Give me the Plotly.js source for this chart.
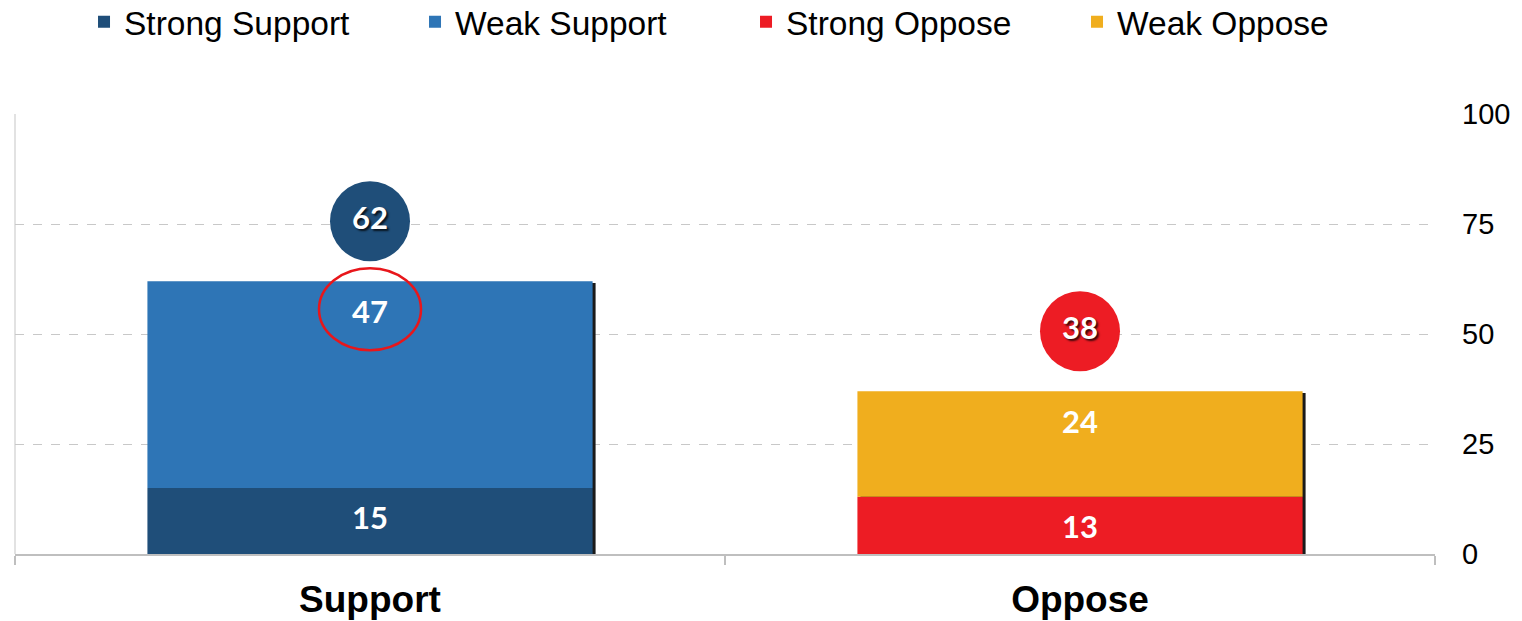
<!DOCTYPE html>
<html>
<head>
<meta charset="utf-8">
<script src="https://cdn.plot.ly/plotly-3.0.1.min.js"></script>
<style>html,body{margin:0;padding:0;background:#fff;}#chart{width:1522px;height:621px;}</style>
</head>
<body>
<div id="chart"></div>
<script>
// ---- data ----
const categories = ["Support", "Oppose"];
const seriesNames = ["Strong Support", "Weak Support", "Strong Oppose", "Weak Oppose"];
const strongValues = [15, 13];          // Strong Support / Strong Oppose
const weakValues = [47, 24];            // Weak Support / Weak Oppose
const totals = [62, 38];                // bubble totals
const yTicks = [0, 25, 50, 75, 100];

// ---- styles ----
const colStrongSupport = "#1F4E79";
const colWeakSupport = "#2E75B6";
const colStrongOppose = "#ED1C24";
const colWeakOppose = "#F0AE1E";
const bubbleColors = [colStrongSupport, colStrongOppose];

const W = 1522, H = 621;
const margin = {l: 15, r: 87, t: 114, b: 67, autoexpand: false};
const plotH = H - margin.t - margin.b;
const yMax = 100;
const pxPerUnit = plotH / yMax;
const barWidth = 0.627;
const shadowPx = 3;
const bandPx = (W - margin.l - margin.r) / categories.length;

const stackTops = strongValues.map((s, i) => s + weakValues[i]);

function bar(name, xIdx, y, base, color) {
  return {
    type: "bar", name: name,
    x: [categories[xIdx]], y: [y], base: [base],
    width: barWidth,
    marker: {color: color, line: {width: 0}},
    hoverinfo: "skip", showlegend: true
  };
}

// shadow on right edge of each stacked bar
const shadow = {
  type: "bar", x: categories, y: stackTops.map(v => v - 0.4), base: [0, 0],
  width: barWidth,
  offset: -barWidth / 2 + shadowPx / bandPx,
  marker: {color: "#1a1a1a", line: {width: 0}},
  showlegend: false, hoverinfo: "skip"
};

const traces = [
  shadow,
  bar(seriesNames[0], 0, strongValues[0], 0, colStrongSupport),
  bar(seriesNames[1], 0, weakValues[0], strongValues[0], colWeakSupport),
  bar(seriesNames[2], 1, strongValues[1], 0, colStrongOppose),
  bar(seriesNames[3], 1, weakValues[1], strongValues[1], colWeakOppose),
  {
    type: "scatter", mode: "markers+text",
    x: categories,
    y: stackTops.map(v => v + 60 / pxPerUnit),
    text: totals.map(String),
    textposition: "middle center",
    textfont: {family: "Lato, 'Open Sans', sans-serif", size: 31, color: "#ffffff", weight: "bold",
               shadow: "2px 2px 2px rgba(0,0,0,0.75)"},
    marker: {size: 80, color: bubbleColors, line: {width: 0}},
    showlegend: false, hoverinfo: "skip", cliponaxis: false
  }
];

// value labels inside segments, near the top of each segment
const labelFont = {family: "Lato, 'Open Sans', sans-serif", size: 31, color: "#ffffff", weight: "bold"};
const annotations = [];
categories.forEach((c, i) => {
  annotations.push({x: c, y: strongValues[i], text: String(strongValues[i]), showarrow: false,
    xref: "x", yref: "y", yanchor: "middle", yshift: -29, font: labelFont});
  annotations.push({x: c, y: stackTops[i], text: String(weakValues[i]), showarrow: false,
    xref: "x", yref: "y", yanchor: "middle", yshift: -30, font: labelFont});
});

const shapes = [
  // light left border line
  {type: "line", xref: "paper", yref: "paper", x0: 0, x1: 0, y0: 0, y1: 1,
   line: {color: "#D9D9D9", width: 1.5}, layer: "below"},
  // red highlight ellipse around the weak support label
  {type: "circle", xref: "x", yref: "y", xsizemode: "pixel", ysizemode: "pixel",
   xanchor: categories[0], yanchor: stackTops[0],
   x0: -51, x1: 51, y0: -69, y1: 13,
   line: {color: "#E8161B", width: 2.5}, fillcolor: "rgba(0,0,0,0)"}
];

const layout = {
  width: W, height: H,
  margin: margin,
  paper_bgcolor: "#ffffff", plot_bgcolor: "#ffffff",
  barmode: "overlay",
  font: {family: "'Liberation Sans', Arial, sans-serif", color: "#000000"},
  showlegend: true,
  legend: {
    orientation: "h", xref: "container", yref: "container",
    x: 0.0552, xanchor: "left", y: 1 - 22 / H, yanchor: "middle",
    font: {family: "'Liberation Sans', Arial, sans-serif", size: 33.5, color: "#000000"},
    entrywidth: 286, entrywidthmode: "pixels",
    traceorder: "normal", itemclick: false, itemdoubleclick: false,
    bgcolor: "rgba(0,0,0,0)"
  },
  xaxis: {
    type: "category", categoryorder: "array", categoryarray: categories,
    showgrid: false, zeroline: false,
    showline: true, linecolor: "#BFBFBF", linewidth: 1.5,
    ticks: "outside", tickson: "boundaries", ticklen: 9, tickcolor: "#BFBFBF", tickwidth: 1.5,
    tickfont: {family: "'Liberation Sans', Arial, sans-serif", size: 37, color: "#000000", weight: "bold"},
    ticklabelstandoff: 12,
    fixedrange: true
  },
  yaxis: {
    side: "right", range: [0, yMax], tickvals: yTicks, ticktext: yTicks.map(String),
    showgrid: true, gridcolor: "#C8C8C8", griddash: "dash", gridwidth: 1,
    zeroline: false, showline: false, ticks: "",
    tickfont: {family: "'Liberation Sans', Arial, sans-serif", size: 29, color: "#000000"},
    ticklabelstandoff: 26,
    fixedrange: true
  },
  annotations: annotations,
  shapes: shapes
};

Plotly.newPlot("chart", traces, layout, {displayModeBar: false, staticPlot: true});
</script>
</body>
</html>
